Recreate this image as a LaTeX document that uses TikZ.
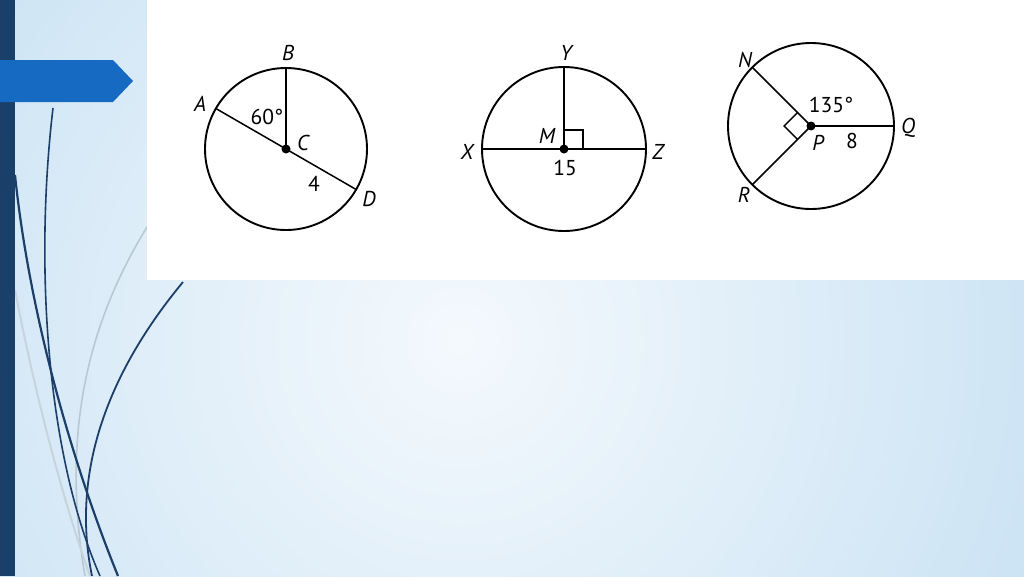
\documentclass[tikz,border=0pt]{standalone}
\usepackage{fontspec}
\setmainfont{PT Sans}
\definecolor{navy}{HTML}{1A3F69}
\definecolor{tabblue}{HTML}{166AC1}
\definecolor{bgin}{HTML}{F4F9FD}
\definecolor{bgout}{HTML}{CBE3F4}
\definecolor{swirl}{HTML}{1C3F6A}
\definecolor{swirlgray}{HTML}{B9C9D4}

\begin{document}
\begin{tikzpicture}[x=1pt,y=1pt,
    rim/.style={line width=1.9pt},
    seg/.style={line width=1.5pt},
    lbl/.style={font=\fontsize{21.5}{24}\selectfont\itshape, inner sep=0pt},
    num/.style={font=\fontsize{21.5}{24}\selectfont, inner sep=0pt}]

    \useasboundingbox (0,0) rectangle (1024,-576);

    \begin{scope}
      \clip (0,0) rectangle (1024,-576);
      \shade[inner color=bgin, outer color=bgout] (460,-340) circle (620);
    \end{scope}



    \draw[swirlgray, line width=1.6pt] (147,-227) .. controls (90,-320) and (60,-430) .. (85,-576);

    \draw[swirlgray!80, line width=2pt] (15,-290) .. controls (40,-420) and (70,-520) .. (90,-576);

    \draw[swirl, line width=2.2pt] (15,-175) .. controls (30,-320) and (75,-470) .. (118,-576);

    \draw[swirl, line width=1.6pt] (53,-108) .. controls (35,-260) and (45,-450) .. (100,-576);

    \draw[swirl, line width=1.8pt] (183,-282) .. controls (110,-370) and (70,-470) .. (92,-576);



    \fill[white] (147,0) rectangle (1024,-280);

    \fill[navy] (0,0) rectangle (15,-576);

    \fill[tabblue] (0,-60) -- (113,-60) -- (133,-81) -- (113,-102) -- (0,-102) -- cycle;



    \begin{scope}[xshift=286pt,yshift=-149pt]

      \coordinate (C) at (0,0);
      \coordinate (B) at (90:81);
      \coordinate (A) at (150:81);
      \coordinate (D) at (-30:81);

      \draw[rim] (C) circle (81);
      \draw[seg] (C) -- (B);
      \draw[seg] (A) -- (D);
      \fill (C) circle (4.5);

      \node[lbl] (labB) at (2,96) {B};
      \node[lbl] (labA) at (-86,45) {A};
      \node[num] (angACB) at (-19,32) {60°};
      \node[lbl] (labC) at (17,6) {C};
      \node[num] (lenCD) at (28,-35) {4};
      \node[lbl] (labD) at (83,-50) {D};

    \end{scope}



    \begin{scope}[xshift=564pt,yshift=-149pt]

      \coordinate (M) at (0,0);
      \coordinate (Y) at (90:82);
      \coordinate (X) at (180:82);
      \coordinate (Z) at (0:82);

      \draw[rim] (M) circle (82);
      \draw[seg] (M) -- (Y);
      \draw[seg] (X) -- (Z);
      \draw[seg] (0,19) -- (19,19) -- (19,0);
      \fill (M) circle (4.5);

      \node[lbl] (labY) at (2,96) {Y};
      \node[lbl] (labX) at (-97,-3) {X};
      \node[lbl] (labZ) at (94,-3) {Z};
      \node[lbl] (labM) at (-17,13) {M};
      \node[num] (lenXZ) at (1,-19) {15};

    \end{scope}



    \begin{scope}[xshift=811pt,yshift=-126pt]

      \coordinate (P) at (0,0);
      \coordinate (N) at (135:83);
      \coordinate (R) at (225:83);
      \coordinate (Q) at (0:83);

      \draw[rim] (P) circle (83);
      \draw[seg] (P) -- (N);
      \draw[seg] (P) -- (R);
      \draw[seg] (P) -- (Q);
      \draw[seg] (135:19) -- ++(225:19) -- (225:19);
      \fill (P) circle (4.5);

      \node[lbl] (labN) at (-66,66) {N};
      \node[num] (angNPQ) at (20,21) {135°};
      \node[lbl] (labQ) at (97,-2) {Q};
      \node[lbl] (labP) at (7,-17) {P};
      \node[num] (lenPQ) at (41,-15) {8};
      \node[lbl] (labR) at (-67,-69) {R};

    \end{scope}

\end{tikzpicture}
\end{document}
